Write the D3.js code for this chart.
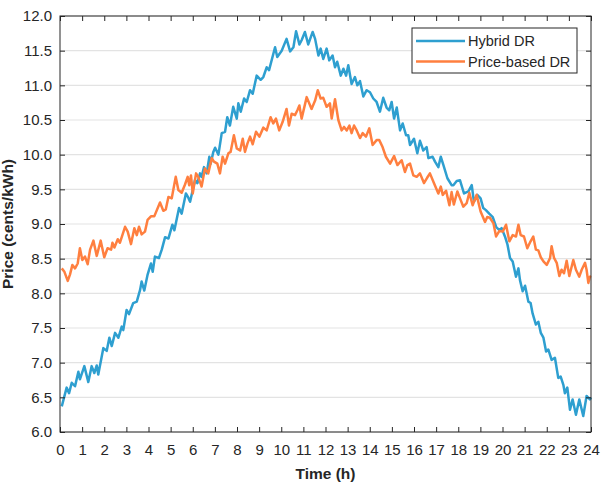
<!DOCTYPE html>
<html>
<head>
<meta charset="utf-8">
<script src="https://cdn.jsdelivr.net/npm/d3@7"></script>
<style>
  body { margin: 0; background: #fff; }
  text { font-family: "Liberation Sans", Arial, sans-serif; }
</style>
</head>
<body>
<div id="chart"></div>
<script>
// values (time in h, price in cents/kWh)
const hybridTime = [0.08, 0.3, 0.41, 0.53, 0.68, 0.83, 0.9, 1.1, 1.28, 1.43, 1.55, 1.66, 1.73, 1.96, 2.11, 2.23, 2.34, 2.49, 2.64, 2.79, 2.86, 3.01, 3.12, 3.31, 3.47, 3.62, 3.69, 3.81, 3.96, 4.11, 4.19, 4.29, 4.47, 4.6, 4.75, 4.9, 5.08, 5.17, 5.38, 5.5, 5.69, 5.8, 5.88, 6.0, 6.1, 6.21, 6.33, 6.4, 6.51, 6.63, 6.75, 6.81, 6.93, 7.01, 7.16, 7.31, 7.46, 7.56, 7.68, 7.83, 7.99, 8.06, 8.17, 8.32, 8.44, 8.59, 8.71, 8.89, 9.07, 9.19, 9.34, 9.45, 9.72, 9.82, 10.02, 10.24, 10.4, 10.55, 10.67, 10.82, 10.92, 11.07, 11.22, 11.42, 11.53, 11.68, 11.78, 11.9, 12.05, 12.17, 12.32, 12.43, 12.53, 12.69, 12.81, 12.93, 13.03, 13.18, 13.33, 13.44, 13.56, 13.71, 13.86, 14.01, 14.16, 14.31, 14.46, 14.61, 14.76, 14.88, 14.99, 15.1, 15.22, 15.37, 15.49, 15.64, 15.74, 15.82, 16.0, 16.15, 16.27, 16.42, 16.57, 16.65, 16.84, 16.95, 17.1, 17.21, 17.33, 17.51, 17.7, 17.78, 17.93, 18.08, 18.26, 18.46, 18.61, 18.71, 18.86, 19.01, 19.13, 19.25, 19.4, 19.56, 19.71, 19.86, 19.96, 20.11, 20.22, 20.34, 20.46, 20.61, 20.72, 20.79, 20.91, 21.02, 21.17, 21.27, 21.36, 21.51, 21.62, 21.73, 21.85, 21.97, 22.07, 22.22, 22.37, 22.52, 22.63, 22.75, 22.82, 22.93, 23.05, 23.17, 23.32, 23.47, 23.65, 23.8, 23.95, 24.0];
const hybridPrice = [6.37, 6.64, 6.56, 6.71, 6.66, 6.87, 6.76, 6.95, 6.72, 6.95, 6.85, 6.96, 6.83, 7.21, 7.17, 7.36, 7.24, 7.43, 7.36, 7.52, 7.47, 7.76, 7.7, 7.86, 7.88, 8.05, 8.17, 8.04, 8.27, 8.43, 8.31, 8.53, 8.51, 8.63, 8.81, 8.79, 8.99, 8.91, 9.23, 9.15, 9.44, 9.38, 9.32, 9.49, 9.63, 9.59, 9.73, 9.68, 9.82, 9.73, 9.97, 9.87, 10.04, 10.1, 10.0, 10.31, 10.33, 10.54, 10.42, 10.69, 10.52, 10.74, 10.62, 10.81, 10.76, 10.93, 10.88, 11.14, 11.08, 11.12, 11.26, 11.22, 11.55, 11.41, 11.5, 11.67, 11.49, 11.55, 11.78, 11.59, 11.65, 11.77, 11.59, 11.77, 11.67, 11.43, 11.53, 11.38, 11.53, 11.36, 11.43, 11.26, 11.34, 11.14, 11.24, 11.14, 11.29, 11.02, 11.12, 11.0, 11.06, 10.84, 10.93, 10.9, 10.81, 10.76, 10.62, 10.82, 10.68, 10.64, 10.76, 10.52, 10.68, 10.35, 10.45, 10.28, 10.28, 10.14, 10.23, 10.02, 10.2, 10.06, 10.11, 9.95, 9.97, 9.9, 9.82, 9.97, 9.85, 9.66, 9.56, 9.56, 9.62, 9.63, 9.44, 9.47, 9.56, 9.32, 9.42, 9.37, 9.23, 9.2, 9.15, 9.1, 8.96, 8.91, 8.94, 8.82, 8.71, 8.51, 8.46, 8.24, 8.36, 8.19, 8.03, 8.11, 7.88, 7.86, 7.71, 7.55, 7.59, 7.43, 7.36, 7.16, 7.19, 7.04, 7.07, 6.78, 6.8, 6.68, 6.56, 6.64, 6.32, 6.47, 6.25, 6.47, 6.23, 6.52, 6.47, 6.5];

const priceTime = [0.08, 0.2, 0.35, 0.45, 0.56, 0.68, 0.8, 0.9, 1.01, 1.13, 1.25, 1.36, 1.51, 1.66, 1.84, 2.0, 2.15, 2.31, 2.37, 2.46, 2.61, 2.71, 2.94, 3.06, 3.21, 3.36, 3.47, 3.57, 3.69, 3.84, 3.96, 4.11, 4.26, 4.52, 4.67, 4.78, 4.9, 5.05, 5.23, 5.35, 5.5, 5.65, 5.77, 5.84, 5.92, 6.0, 6.15, 6.25, 6.4, 6.55, 6.7, 6.86, 6.96, 7.11, 7.23, 7.35, 7.46, 7.61, 7.71, 7.86, 7.99, 8.14, 8.26, 8.36, 8.47, 8.59, 8.71, 8.86, 9.01, 9.19, 9.34, 9.52, 9.64, 9.76, 9.91, 10.06, 10.24, 10.35, 10.47, 10.62, 10.73, 10.82, 10.92, 11.15, 11.37, 11.53, 11.65, 11.78, 11.9, 12.05, 12.2, 12.28, 12.43, 12.58, 12.73, 12.84, 12.96, 13.08, 13.18, 13.29, 13.41, 13.56, 13.68, 13.83, 13.98, 14.13, 14.31, 14.43, 14.58, 14.73, 14.92, 15.1, 15.25, 15.44, 15.59, 15.7, 15.82, 15.97, 16.12, 16.27, 16.45, 16.6, 16.72, 16.9, 17.1, 17.21, 17.3, 17.45, 17.6, 17.7, 17.8, 17.96, 18.08, 18.23, 18.38, 18.5, 18.65, 18.83, 19.01, 19.21, 19.31, 19.43, 19.59, 19.71, 19.86, 20.01, 20.16, 20.31, 20.46, 20.61, 20.72, 20.82, 20.97, 21.12, 21.27, 21.39, 21.51, 21.62, 21.73, 21.85, 22.0, 22.15, 22.22, 22.33, 22.45, 22.57, 22.67, 22.78, 22.9, 23.02, 23.2, 23.32, 23.47, 23.58, 23.73, 23.8, 23.88, 23.95, 24.0];
const pricePrice = [8.36, 8.31, 8.18, 8.27, 8.41, 8.36, 8.43, 8.65, 8.48, 8.53, 8.42, 8.63, 8.76, 8.54, 8.76, 8.52, 8.65, 8.63, 8.73, 8.66, 8.78, 8.73, 8.96, 8.89, 8.71, 8.94, 8.84, 8.96, 8.85, 8.89, 9.06, 9.11, 9.11, 9.31, 9.19, 9.21, 9.39, 9.37, 9.68, 9.49, 9.45, 9.57, 9.68, 9.56, 9.7, 9.44, 9.73, 9.68, 9.54, 9.8, 9.73, 9.95, 9.9, 9.87, 9.73, 9.97, 9.87, 10.02, 10.04, 10.28, 10.09, 10.06, 10.23, 10.04, 10.16, 10.26, 10.15, 10.33, 10.26, 10.39, 10.35, 10.54, 10.45, 10.52, 10.35, 10.47, 10.66, 10.42, 10.59, 10.57, 10.64, 10.71, 10.52, 10.83, 10.66, 10.78, 10.93, 10.81, 10.82, 10.69, 10.74, 10.52, 10.8, 10.5, 10.35, 10.4, 10.35, 10.42, 10.31, 10.42, 10.35, 10.24, 10.31, 10.26, 10.38, 10.14, 10.21, 10.21, 10.11, 9.97, 9.87, 9.98, 9.85, 9.92, 9.75, 9.85, 9.87, 9.7, 9.68, 9.73, 9.59, 9.67, 9.73, 9.59, 9.44, 9.54, 9.42, 9.48, 9.27, 9.46, 9.28, 9.47, 9.37, 9.25, 9.3, 9.45, 9.27, 9.42, 9.18, 9.03, 9.1, 9.09, 9.01, 8.82, 8.9, 8.89, 8.99, 8.75, 8.84, 8.82, 8.99, 8.84, 8.82, 8.65, 8.75, 8.82, 8.63, 8.62, 8.52, 8.46, 8.41, 8.51, 8.68, 8.51, 8.44, 8.25, 8.34, 8.29, 8.47, 8.25, 8.48, 8.34, 8.24, 8.34, 8.44, 8.34, 8.15, 8.24, 8.25];

const xTicks = d3.range(0, 25, 1);
const yTicks = d3.range(6, 12.01, 0.5);

const series = [
  { name: "Hybrid DR", time: hybridTime, price: hybridPrice, color: "#2e9fd0" },
  { name: "Price-based DR", time: priceTime, price: pricePrice, color: "#ff7f3f" }
];

const width = 610;
const height = 486;
const margin = { top: 16, right: 19, bottom: 54, left: 60 };
const w = width - margin.left - margin.right;
const h = height - margin.top - margin.bottom;

const svg = d3.select("#chart")
  .append("svg")
  .attr("width", width)
  .attr("height", height);

const g = svg.append("g")
  .attr("transform", `translate(${margin.left},${margin.top})`);

const x = d3.scaleLinear().domain([0, 24]).range([0, w]);
const y = d3.scaleLinear().domain([6, 12]).range([h, 0]);

// horizontal grid
g.append("g")
  .selectAll("line")
  .data(yTicks)
  .enter()
  .append("line")
  .attr("x1", 0)
  .attr("x2", w)
  .attr("y1", d => y(d))
  .attr("y2", d => y(d))
  .attr("stroke", "#e3e3e3")
  .attr("stroke-width", 1.2);

// lines
const line = d3.line()
  .x(d => x(d[0]))
  .y(d => y(d[1]));

series.forEach(s => {
  g.append("path")
    .datum(s.time.map((t, i) => [t, s.price[i]]))
    .attr("fill", "none")
    .attr("stroke", s.color)
    .attr("stroke-width", 2.5)
    .attr("stroke-linejoin", "round")
    .attr("d", line);
});

// axes, ticks pointing in
function styleAxis(sel) {
  sel.select(".domain").remove();
  sel.selectAll("line").attr("stroke", "#262626");
  sel.selectAll("text")
    .attr("fill", "#262626")
    .style("font-size", "15px");
}

g.append("g")
  .attr("transform", `translate(0,${h})`)
  .call(d3.axisBottom(x).tickValues(xTicks).tickFormat(d3.format("d")).tickSizeInner(-5).tickSizeOuter(0).tickPadding(12))
  .call(styleAxis);

g.append("g")
  .call(d3.axisTop(x).tickValues(xTicks).tickFormat("").tickSizeInner(-5).tickSizeOuter(0))
  .call(styleAxis);

g.append("g")
  .call(d3.axisLeft(y).tickValues(yTicks).tickFormat(d3.format(".1f")).tickSizeInner(-5).tickSizeOuter(0).tickPadding(8))
  .call(styleAxis);

g.append("g")
  .attr("transform", `translate(${w},0)`)
  .call(d3.axisRight(y).tickValues(yTicks).tickFormat("").tickSizeInner(-5).tickSizeOuter(0))
  .call(styleAxis);

// frame
g.append("rect")
  .attr("width", w)
  .attr("height", h)
  .attr("fill", "none")
  .attr("stroke", "#262626")
  .attr("stroke-width", 1);

// axis labels
svg.append("text")
  .attr("x", margin.left + w / 2)
  .attr("y", 479)
  .attr("text-anchor", "middle")
  .style("font-size", "15.5px")
  .style("font-weight", "bold")
  .attr("fill", "#262626")
  .text("Time (h)");

svg.append("text")
  .attr("transform", `translate(13,${margin.top + h / 2}) rotate(-90)`)
  .attr("text-anchor", "middle")
  .style("font-size", "15.5px")
  .style("font-weight", "bold")
  .attr("fill", "#262626")
  .text("Price (cents/kWh)");

// legend
const legend = svg.append("g").attr("transform", "translate(412,28)");
legend.append("rect")
  .attr("width", 165)
  .attr("height", 45)
  .attr("fill", "#fff")
  .attr("stroke", "#262626")
  .attr("stroke-width", 1);

series.forEach((s, i) => {
  const ly = 13 + i * 20.5;
  legend.append("line")
    .attr("x1", 4).attr("x2", 53)
    .attr("y1", ly).attr("y2", ly)
    .attr("stroke", s.color)
    .attr("stroke-width", 2.5);
  legend.append("text")
    .attr("x", 56)
    .attr("y", ly + 5)
    .style("font-size", "14.5px")
    .attr("fill", "#262626")
    .text(s.name);
});
</script>
</body>
</html>
